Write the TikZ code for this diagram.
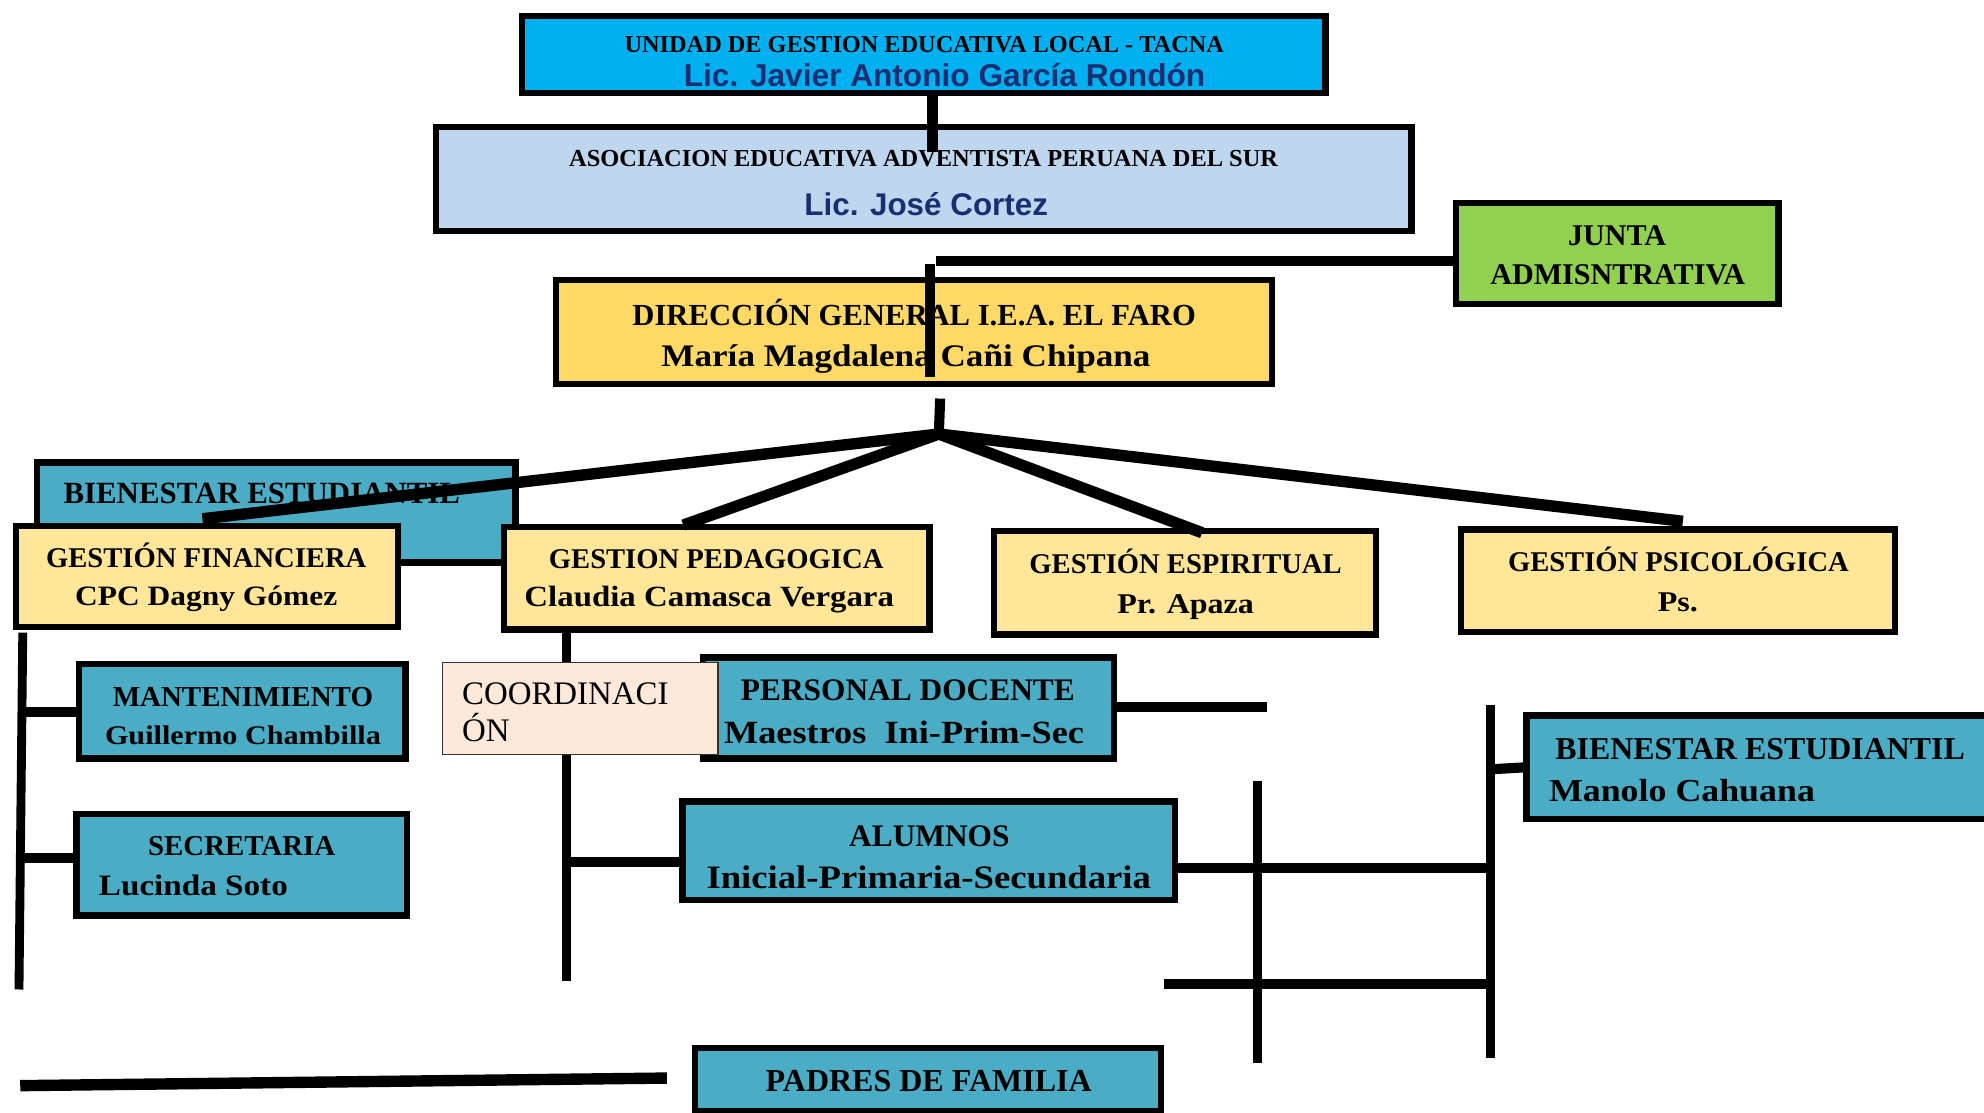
\documentclass[tikz,border=0pt]{standalone}
\usepackage{fontspec}
\newfontfamily\cam{Liberation Serif}
\newfontfamily\camw[FakeStretch=1.12]{Liberation Serif}
\newfontfamily\ari{Liberation Sans}
\newcommand\fsz[1]{\fontsize{#1}{#1}\selectfont}
\definecolor{ugelC}{HTML}{00B0F0}
\definecolor{asocC}{HTML}{BED6EE}
\definecolor{juntaC}{HTML}{92D050}
\definecolor{dirC}{HTML}{FFD966}
\definecolor{lyel}{HTML}{FFE699}
\definecolor{tealC}{HTML}{4BACC6}
\definecolor{peachC}{HTML}{FDE9D9}
\definecolor{navyC}{HTML}{1A2F72}
\tikzset{
  box/.style={draw=black, line width=5pt, inner sep=0pt},
  conn/.style={line width=8pt, draw=black},
  thinconn/.style={line width=7pt, draw=black},
  up/.style={inner sep=0pt, anchor=base, font=\cam\bfseries\fsz{#1}},
  lo/.style={inner sep=0pt, anchor=base, font=\camw\bfseries\fsz{#1}},
  sa/.style={inner sep=0pt, anchor=base, font=\ari\bfseries\fsz{#1}, text=navyC}
}
\begin{document}
\begin{tikzpicture}[x=1pt,y=-1pt]
\useasboundingbox[fill=white] (0,0) rectangle (1568,879);

% ---------- boxes
\node[box, fill=ugelC, minimum width=635pt, minimum height=61pt] (ugel) at (730,43) {};
\node[up=19.2] (ugelT1) at (730.5,41.3) {UNIDAD DE GESTION EDUCATIVA LOCAL - TACNA};
\node[sa=25] (ugelT2) at (746.5,68) {Lic. Javier Antonio García Rondón};

\node[box, fill=asocC, minimum width=771pt, minimum height=82pt] (asoc) at (730,141.5) {};
\node[up=19.3] (asocT1) at (730,131.4) {ASOCIACION EDUCATIVA ADVENTISTA PERUANA DEL SUR};
\node[sa=24.8] (asocT2) at (732,170) {Lic. José Cortez};

\node[box, fill=juntaC, minimum width=255pt, minimum height=80pt] (junta) at (1278,200.5) {};
\node[up=23.8] (juntaT1) at (1278,193.9) {JUNTA};
\node[up=23.8] (juntaT2) at (1278.5,224.9) {ADMISNTRATIVA};

\node[box, fill=dirC, minimum width=566pt, minimum height=82pt] (dir) at (722.5,262.5) {};
\node[up=24.2] (dirT1) at (722.5,257) {DIRECCIÓN GENERAL I.E.A. EL FARO};
\node[lo=24.8] (dirT2) at (716,290) {María Magdalena Cañi Chipana};

\node[box, fill=tealC, minimum width=378pt, minimum height=79pt] (bien1) at (218.5,405) {};
\node[up=24.4, anchor=base west] (bien1T) at (50,398) {BIENESTAR ESTUDIANTIL};

\node[box, fill=lyel, minimum width=302pt, minimum height=80pt] (fin) at (163.5,455.5) {};
\node[up=22.6] (finT1) at (163,448.5) {GESTIÓN FINANCIERA};
\node[lo=22.2] (finT2) at (163,478.5) {CPC Dagny Gómez};

\node[box, fill=lyel, minimum width=336pt, minimum height=81pt] (ped) at (566.5,457) {};
\node[up=22.6] (pedT1) at (566,449.5) {GESTION PEDAGOGICA};
\node[lo=23.2] (pedT2) at (560.5,479.5) {Claudia Camasca Vergara};

\node[box, fill=lyel, minimum width=302pt, minimum height=82pt] (esp) at (936.5,460.5) {};
\node[up=22.6] (espT1) at (937,453.5) {GESTIÓN ESPIRITUAL};
\node[lo=22.6] (espT2) at (937,484.5) {Pr. Apaza};

\node[box, fill=lyel, minimum width=343pt, minimum height=81pt] (psi) at (1326,459) {};
\node[up=22.6] (psiT1) at (1326.5,451.5) {GESTIÓN PSICOLÓGICA};
\node[lo=22.6] (psiT2) at (1326,483.5) {Ps.};

\node[box, fill=tealC, minimum width=258pt, minimum height=75pt] (mant) at (191.5,562) {};
\node[up=22.9] (mantT1) at (192,558.5) {MANTENIMIENTO};
\node[lo=21.3] (mantT2) at (192,588) {Guillermo Chambilla};

\node[box, fill=tealC, minimum width=261pt, minimum height=80pt] (secr) at (191,683.5) {};
\node[up=22.8] (secrT1) at (191,676.5) {SECRETARIA};
\node[lo=23.4, anchor=base west] (secrT2) at (78,708) {Lucinda Soto};

\node[box, fill=tealC, minimum width=325pt, minimum height=80pt] (pd) at (718,559.5) {};
\node[up=24.8] (pdT1) at (717.5,554) {PERSONAL DOCENTE};
\node[lo=25.6] (pdT2) at (714.5,587.5) {Maestros\ \ Ini-Prim-Sec};

\node[box, fill=tealC, minimum width=389pt, minimum height=78pt] (alum) at (734,672.5) {};
\node[up=24.8] (alumT1) at (734.5,669) {ALUMNOS};
\node[lo=25.9] (alumT2) at (734,702.5) {Inicial-Primaria-Secundaria};

\node[box, fill=tealC, minimum width=366pt, minimum height=82pt] (bien2) at (1389.5,606.5) {};
\node[up=25.2, anchor=base west] (bien2T1) at (1229,600.5) {BIENESTAR ESTUDIANTIL};
\node[lo=25.3, anchor=base west] (bien2T2) at (1224,633.5) {Manolo Cahuana};

\node[box, fill=tealC, minimum width=368pt, minimum height=50pt] (padres) at (733.5,853) {};
\node[up=25.3] (padresT) at (734,863) {PADRES DE FAMILIA};

% ---------- connector coordinates
\coordinate (a1) at (737,120);
\coordinate (j1) at (740,206);
\coordinate (v1a) at (735,209);
\coordinate (v1b) at (735,298);
\coordinate (d1) at (743,315);
\coordinate (hub) at (742,343);
\coordinate (tfin) at (160,410);
\coordinate (tped) at (540,415);
\coordinate (tesp) at (950,421);
\coordinate (tpsi) at (1330,412);
\coordinate (l1a) at (18,500);
\coordinate (l1b) at (15,782);
\coordinate (m1a) at (448,500);
\coordinate (m1b) at (448,775);
\coordinate (pdE) at (1001,559);
\coordinate (alE) at (1180,686);
\coordinate (r1a) at (994,617);
\coordinate (r1b) at (994,840);
\coordinate (r2a) at (1178,557);
\coordinate (r2b) at (1178,836);
\coordinate (h2a) at (920,778);
\coordinate (h2b) at (1180,778);
\coordinate (b1a) at (16,858);
\coordinate (b1b) at (527,852);

% ---------- connectors
\draw[conn] (ugel.south -| a1) -- (a1);
\draw[conn] (junta.west |- j1) -- (j1);
\draw[conn] (v1a) -- (v1b);
\draw[conn] (d1) -- (hub);
\draw[conn, line width=9pt] (hub) -- (tfin);
\draw[conn, line width=9pt] (hub) -- (tped);
\draw[conn, line width=9pt] (hub) -- (tesp);
\draw[conn, line width=9pt] (hub) -- (tpsi);
\draw[thinconn] (l1a) -- (l1b);
\draw[conn] (17,563) -- (mant.west |- 0,563);
\draw[conn] (16,678) -- (secr.west |- 0,678);
\draw[thinconn] (m1a) -- (m1b);
\draw[conn] (448,681) -- (alum.west |- 0,681);
\draw[conn] (pd.east |- pdE) -- (pdE);
\draw[conn] (alum.east |- alE) -- (alE);
\draw[thinconn] (r1a) -- (r1b);
\draw[thinconn] (r2a) -- (r2b);
\draw[conn] (h2a) -- (h2b);
\draw[conn] (1178,608) -- (bien2.west);
\draw[conn, line width=9pt] (b1a) -- (b1b);

% ---------- coordination box on top
\node[draw=black!80, line width=1pt, fill=peachC, minimum width=218pt, minimum height=73pt] (coord) at (458.5,560) {};
\node[inner sep=0pt, anchor=base west, font=\cam\fsz{26}] (coordT1) at (365,556.6) {COORDINACI};
\node[inner sep=0pt, anchor=base west, font=\cam\fsz{26}] (coordT2) at (365,586) {ÓN};
\end{tikzpicture}
\end{document}
